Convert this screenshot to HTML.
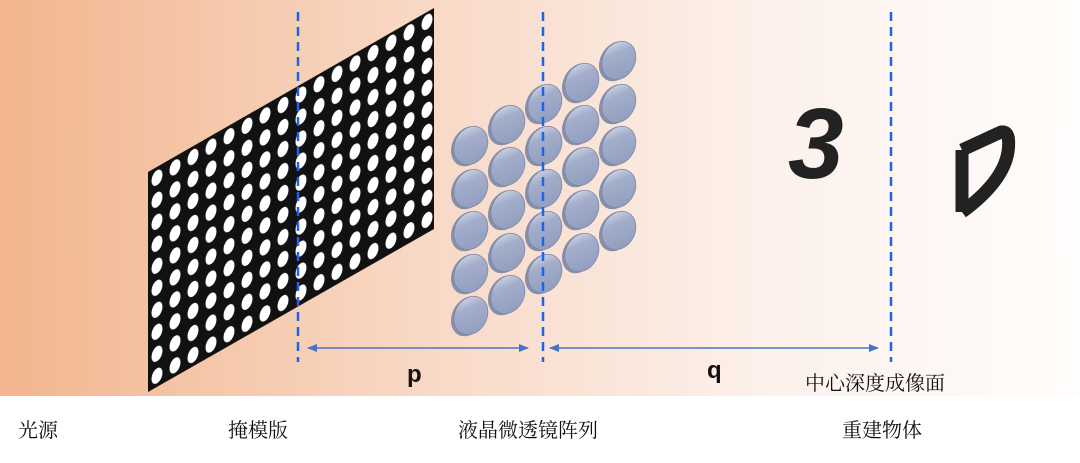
<!DOCTYPE html>
<html><head><meta charset="utf-8"><style>
body{margin:0;width:1080px;height:458px;overflow:hidden;background:#fff;font-family:"Liberation Sans","Noto Sans CJK SC",sans-serif}
</style></head><body>
<svg width="1080" height="458" xmlns="http://www.w3.org/2000/svg">
<defs>
<linearGradient id="bg" x1="0" x2="1" y1="0" y2="0">
<stop offset="0" stop-color="#f2b58e"/><stop offset="0.35" stop-color="#f8d5c0"/><stop offset="0.7" stop-color="#fcf0ea"/><stop offset="1" stop-color="#fffdfc"/></linearGradient>
<pattern id="dots" width="18" height="22" patternUnits="userSpaceOnUse" patternTransform="translate(148,172) skewY(-30)">
<rect width="18" height="22" fill="#111"/><ellipse cx="9" cy="11" rx="5.5" ry="7.5" fill="#fff"/></pattern>
<linearGradient id="ln" x1="0" y1="0" x2="1" y2="1"><stop offset="0" stop-color="#e4e7f0"/><stop offset="0.35" stop-color="#a3aecb"/><stop offset="1" stop-color="#8e9abc"/></linearGradient>
<g id="lens"><ellipse cx="-1" cy="2" rx="16" ry="21" transform="rotate(28)" fill="#8890a8"/><ellipse cx="1" cy="0" rx="16" ry="20" transform="rotate(28)" fill="url(#ln)" stroke="#7c88a8" stroke-width="0.8"/></g>
<marker id="ah" markerWidth="10" markerHeight="8" refX="9" refY="4" orient="auto" markerUnits="userSpaceOnUse"><path d="M0,0 L10,4 L0,8z" fill="#4472c4"/></marker>
</defs>
<rect x="0" y="0" width="1080" height="396" fill="url(#bg)"/>
<polygon points="148,172 434,8 434,229 148,392" fill="url(#dots)"/>
<g>
<use href="#lens" x="470" y="145"/><use href="#lens" x="470" y="188"/><use href="#lens" x="470" y="230"/><use href="#lens" x="470" y="273"/><use href="#lens" x="470" y="315"/>
<use href="#lens" x="507" y="124"/><use href="#lens" x="507" y="166"/><use href="#lens" x="507" y="209"/><use href="#lens" x="507" y="252"/><use href="#lens" x="507" y="294"/>
<use href="#lens" x="544" y="103"/><use href="#lens" x="544" y="145"/><use href="#lens" x="544" y="188"/><use href="#lens" x="544" y="230"/><use href="#lens" x="544" y="273"/>
<use href="#lens" x="581" y="82"/><use href="#lens" x="581" y="124"/><use href="#lens" x="581" y="166"/><use href="#lens" x="581" y="209"/><use href="#lens" x="581" y="252"/>
<use href="#lens" x="618" y="60"/><use href="#lens" x="618" y="103"/><use href="#lens" x="618" y="145"/><use href="#lens" x="618" y="188"/><use href="#lens" x="618" y="230"/>
</g>
<g stroke="#1f63e6" stroke-width="2.5" stroke-dasharray="9,6">
<line x1="298" y1="12" x2="298" y2="362"/><line x1="543" y1="12" x2="543" y2="362"/><line x1="891" y1="12" x2="891" y2="362"/></g>
<g stroke="#4472c4" stroke-width="1.3">
<line x1="528" y1="348" x2="308" y2="348" marker-end="url(#ah)"/>
<line x1="308" y1="348" x2="528" y2="348" marker-end="url(#ah)"/>
<line x1="878" y1="348" x2="550" y2="348" marker-end="url(#ah)"/>
<line x1="550" y1="348" x2="878" y2="348" marker-end="url(#ah)"/>
</g>
<text x="788" y="178" font-size="100" font-weight="bold" font-style="italic" fill="#222" font-family="Liberation Sans,sans-serif">3</text>
<path d="M962,150 L962,212 M962,150 L1001,132 Q1011,130 1008,152 Q1003,182 962,212" fill="none" stroke="#222" stroke-width="13" stroke-linejoin="round"/>
<text x="407" y="382" font-size="24" font-weight="bold" fill="#111">p</text>
<text x="707" y="378" font-size="24" font-weight="bold" fill="#111">q</text>
<g font-family="Liberation Serif,'Noto Serif CJK SC',serif" font-size="20" fill="#111">
<text x="805" y="390">中心深度成像面</text>
<text x="18" y="437">光源</text>
<text x="228" y="437">掩模版</text>
<text x="458" y="437">液晶微透镜阵列</text>
<text x="842" y="437">重建物体</text>
</g>
</svg>
</body></html>
